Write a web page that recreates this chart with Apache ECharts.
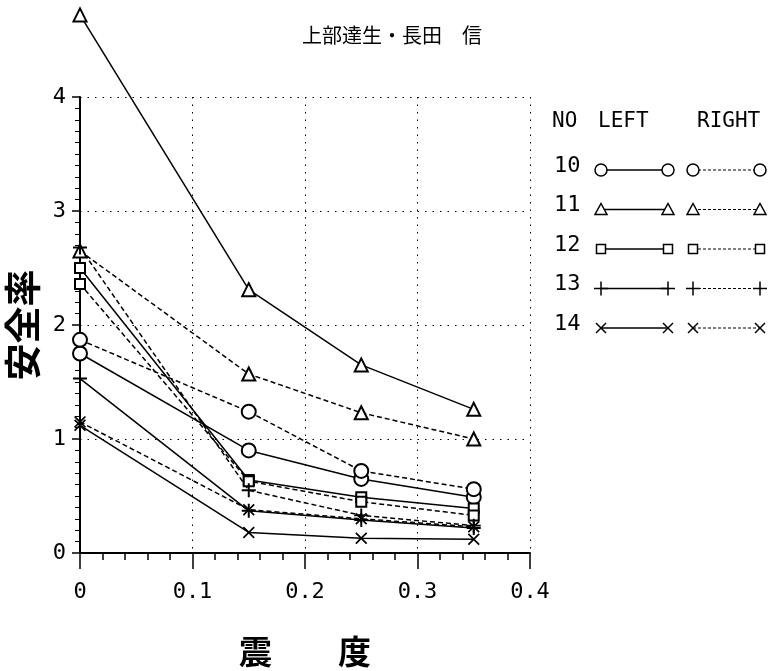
<!DOCTYPE html>
<html>
<head>
<meta charset="utf-8">
<script src="https://cdn.jsdelivr.net/npm/echarts@6/dist/echarts.min.js"></script>
<style>
  html, body { margin: 0; padding: 0; background: #fff; }
  #main { width: 770px; height: 671px; }
</style>
</head>
<body>
<div id="main"></div>
<script>
// 震度 (x)
var xVals = [0, 0.15, 0.25, 0.35];
// 安全率, LEFT = solid, RIGHT = dashed
var left10 = [1.75, 0.90, 0.65, 0.49];
var right10 = [1.87, 1.24, 0.72, 0.56];
var left11 = [4.72, 2.31, 1.65, 1.26];
var right11 = [2.65, 1.57, 1.23, 1.00];
var left12 = [2.50, 0.64, 0.49, 0.39];
var right12 = [2.36, 0.63, 0.45, 0.33];
var left13 = [1.53, 0.37, 0.29, 0.22];
var right13 = [2.68, 0.55, 0.33, 0.24];
var left14 = [1.12, 0.18, 0.13, 0.12];
var right14 = [1.15, 0.38, 0.30, 0.23];
var xTicks = ['0', '0.1', '0.2', '0.3', '0.4'];
var legendNos = ['10', '11', '12', '13', '14'];
var legendHead = ['NO', 'LEFT', 'RIGHT'];

var MONO = '"DejaVu Sans Mono", monospace';
var CJK = '"Noto Sans CJK JP", sans-serif';

var PLUS = 'path://M4.3,0H5.7V4.3H10V5.7H5.7V10H4.3V5.7H0V4.3H4.3Z';
var CROSS = 'path://M0,1L1,0L5,4L9,0L10,1L6,5L10,9L9,10L5,6L1,10L0,9L4,5Z';

function mk(name, vals, symbol, size, dashed) {
  var empty = symbol.indexOf('empty') === 0;
  return {
    name: name,
    type: 'line',
    clip: false,
    data: xVals.map(function (x, i) { return [x, vals[i]]; }),
    symbol: symbol,
    symbolSize: size,
    showAllSymbol: true,
    lineStyle: { color: '#000', width: 1.5, type: dashed ? [5, 3] : 'solid' },
    itemStyle: { color: '#000', borderColor: '#000', borderWidth: empty ? 1.5 : 0 },
    emphasis: { disabled: true },
    z: 3
  };
}

var series = [
  mk('10L', left10, 'emptyCircle', 14, false),
  mk('10R', right10, 'emptyCircle', 14, true),
  mk('11L', left11, 'emptyTriangle', 13, false),
  mk('11R', right11, 'emptyTriangle', 13, true),
  mk('12L', left12, 'emptyRect', 10, false),
  mk('12R', right12, 'emptyRect', 10, true),
  mk('13L', left13, PLUS, 14, false),
  mk('13R', right13, PLUS, 14, true),
  mk('14L', left14, CROSS, 12, false),
  mk('14R', right14, CROSS, 12, true)
];

// legend table drawn by hand
var rowY = [170, 209.5, 249, 288.5, 328];
var mx = [601, 668, 693, 760];
var headX = [552, 598, 697];
var graphics = [];
legendHead.forEach(function (t, i) {
  graphics.push({ type: 'text', left: headX[i], top: 111, style: { text: t, font: '21px ' + MONO, fill: '#000' } });
});
function marker(kind, x, y) {
  var st = { stroke: '#000', fill: '#fff', lineWidth: 1.5 };
  if (kind === 0) return { type: 'circle', shape: { cx: x, cy: y, r: 6 }, style: st, z: 10 };
  if (kind === 1) return { type: 'polygon', shape: { points: [[x, y - 6], [x + 6, y + 5], [x - 6, y + 5]] }, style: st, z: 10 };
  if (kind === 2) return { type: 'rect', shape: { x: x - 4.5, y: y - 4.5, width: 9, height: 9 }, style: st, z: 10 };
  var d = kind === 3 ? 7 : 5;
  var a = kind === 3 ? [[x - d, y, x + d, y], [x, y - d, x, y + d]] : [[x - d, y - d, x + d, y + d], [x - d, y + d, x + d, y - d]];
  return { type: 'group', z: 10, children: a.map(function (p) {
    return { type: 'line', shape: { x1: p[0], y1: p[1], x2: p[2], y2: p[3] }, style: { stroke: '#000', lineWidth: 1.5 }, z: 10 };
  }) };
}
legendNos.forEach(function (no, i) {
  var y = rowY[i];
  graphics.push({ type: 'text', left: 554, top: y - 15, style: { text: no, font: '22px ' + MONO, fill: '#000' } });
  graphics.push({ type: 'line', shape: { x1: mx[0], y1: y, x2: mx[1], y2: y }, style: { stroke: '#000', lineWidth: 1.5 } });
  graphics.push({ type: 'line', shape: { x1: mx[2], y1: y, x2: mx[3], y2: y }, style: { stroke: '#000', lineWidth: 1, lineDash: [3, 2] } });
  mx.forEach(function (x) { graphics.push(marker(i, x, y)); });
});

var chart = echarts.init(document.getElementById('main'), null, { renderer: 'canvas' });
chart.setOption({
  animation: false,
  backgroundColor: '#fff',
  title: {
    text: '上部達生・長田　信',
    left: 387, top: 20, textAlign: 'center',
    textStyle: { fontFamily: CJK, fontSize: 20, fontWeight: 'normal', color: '#000' }
  },
  grid: { left: 80, right: 240, top: 97, bottom: 118, containLabel: false, outerBoundsMode: 'none' },
  xAxis: {
    type: 'value', min: 0, max: 0.4, interval: 0.1,
    name: '震　　度', nameLocation: 'middle', nameGap: 82,
    nameTextStyle: { fontFamily: CJK, fontSize: 33, fontWeight: 'bold', color: '#000' },
    axisLine: { lineStyle: { color: '#000', width: 2 } },
    axisTick: { show: true, length: 16, lineStyle: { color: '#000', width: 1.5 } },
    minorTick: { show: true, splitNumber: 5, length: 7, lineStyle: { color: '#000', width: 1.5 } },
    axisLabel: {
      margin: 28, fontFamily: MONO, fontSize: 22, color: '#000',
      formatter: function (v) { return xTicks[Math.round(v * 10)]; }
    },
    splitLine: { show: true, lineStyle: { color: '#000', width: 1, type: [1.5, 6] } }
  },
  yAxis: {
    type: 'value', min: 0, max: 4, interval: 1,
    name: '安全率', nameLocation: 'middle', nameGap: 36, nameRotate: 90,
    nameTextStyle: { fontFamily: CJK, fontSize: 37, fontWeight: 'bold', color: '#000' },
    axisLine: { show: true, lineStyle: { color: '#000', width: 2 } },
    axisTick: { show: true, length: 8, lineStyle: { color: '#000', width: 1.5 } },
    minorTick: { show: true, splitNumber: 10, length: 5, lineStyle: { color: '#000', width: 1 } },
    axisLabel: { margin: 14, fontFamily: MONO, fontSize: 22, color: '#000' },
    splitLine: { show: true, lineStyle: { color: '#000', width: 1, type: [1.5, 6] } }
  },
  graphic: graphics,
  series: series
});
</script>
</body>
</html>
